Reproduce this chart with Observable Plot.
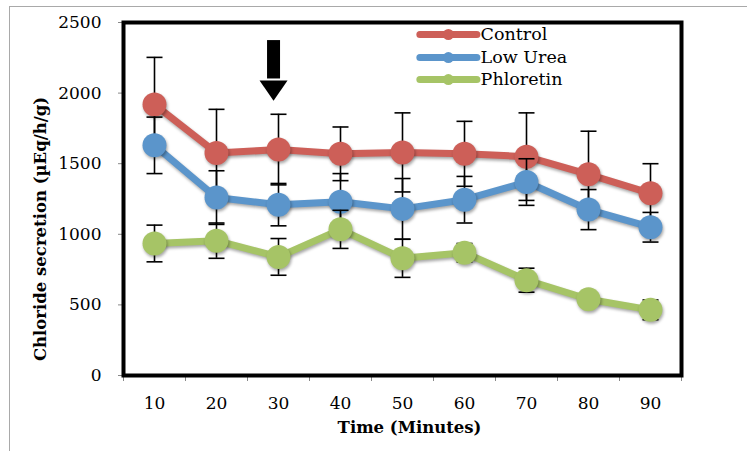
<!DOCTYPE html>
<html>
<head>
<meta charset="utf-8">
<script src="https://cdn.jsdelivr.net/npm/d3@7"></script>
<script src="https://cdn.jsdelivr.net/npm/@observablehq/plot@0.6"></script>
<style>
  html, body { margin: 0; padding: 0; background: #fff; overflow: hidden; }
  #wrap { position: relative; width: 747px; height: 451px; color: #000; }
  #border { position: absolute; left: 9px; top: 6px; right: -20px; bottom: -20px;
            border-left: 1px solid #a9a9a9; border-top: 1px solid #a9a9a9; pointer-events: none; }
  .shadow { filter: drop-shadow(1.5px 2px 1.5px rgba(0,0,0,0.35)); }
</style>
</head>
<body>
<div id="wrap"><div id="border"></div></div>
<script>
// ---- data ----
const minutes = [10, 20, 30, 40, 50, 60, 70, 80, 90];
const control      = [1920, 1575, 1600, 1570, 1580, 1570, 1550, 1425, 1290];
const controlErr   = [333, 310, 250, 190, 280, 230, 310, 305, 210];
const lowUrea      = [1630, 1260, 1210, 1230, 1180, 1245, 1370, 1175, 1050];
const lowUreaErr   = [200, 190, 150, 200, 215, 165, 165, 142, 105];
const phloretin    = [935, 955, 840, 1035, 830, 870, 675, 540, 465];
const phloretinErr = [130, 125, 130, 135, 135, 65, 85, 30, 70];
const seriesNames  = ["Control", "Low Urea", "Phloretin"];
const seriesColors = ["#CD5F58", "#5B95CB", "#A6C466"];
const yTicks = [0, 500, 1000, 1500, 2000, 2500];
const xTickMarks = [5, 15, 25, 35, 45, 55, 65, 75, 85, 95];
// legend placement (data units) and arrow annotation (at 30 min)
const legendX = {x1: 52.8, x2: 62.0, dot: 57.4, text: 62.6};
const legendY = [2415, 2252, 2096];
const arrow = [{x: 29.2, top: 2372, neck: 2100, head: 2018}];

const seriesValues = [control, lowUrea, phloretin];
const seriesErrs = [controlErr, lowUreaErr, phloretinErr];

const capSymbol = {draw(ctx, size) { const r = Math.sqrt(size / Math.PI); ctx.moveTo(-r, 0); ctx.lineTo(r, 0); }};
const downTriangle = {draw(ctx, size) { const r = Math.sqrt(size / Math.PI);
  ctx.moveTo(-r, -0.72 * r); ctx.lineTo(r, -0.72 * r); ctx.lineTo(0, 0.72 * r); ctx.closePath(); }};

const seriesMarks = seriesNames.flatMap((name, k) => {
  const rows = minutes.map((m, i) => ({minute: m, value: seriesValues[k][i], lo: seriesValues[k][i] - seriesErrs[k][i], hi: seriesValues[k][i] + seriesErrs[k][i]}));
  return [
    Plot.ruleX(rows, {x: "minute", y1: "lo", y2: "hi", stroke: "#000", strokeWidth: 1.6}),
    Plot.dot(rows, {x: "minute", y: "lo", r: 8, symbol: capSymbol, stroke: "#000", strokeWidth: 1.6, fill: "none"}),
    Plot.dot(rows, {x: "minute", y: "hi", r: 8, symbol: capSymbol, stroke: "#000", strokeWidth: 1.6, fill: "none"}),
    Plot.line(rows, {x: "minute", y: "value", stroke: seriesColors[k], strokeWidth: 7, strokeLinejoin: "round"}),
    Plot.dot(rows, {x: "minute", y: "value", r: 12, fill: seriesColors[k], stroke: "none"})
  ];
});

const legendRows = seriesNames.map((n, k) => ({name: n, color: seriesColors[k], y: legendY[k]}));

const chart = Plot.plot({
  width: 747,
  height: 451,
  marginLeft: 123,
  marginRight: 66,
  marginTop: 22,
  marginBottom: 76,
  style: {fontFamily: "'DejaVu Serif', serif", fontSize: "17px", color: "#000", background: "transparent"},
  x: {domain: [5, 95]},
  y: {domain: [0, 2500]},
  marks: [
    Plot.axisY({ticks: yTicks, tickSize: 5, tickPadding: 17, tickFormat: d => String(d), label: null, stroke: "#888", fill: "#000", fontSize: 17}),
    Plot.axisX({ticks: minutes, tickSize: 0, tickPadding: 21, label: null, fill: "#000", fontSize: 17}),
    Plot.axisX({ticks: xTickMarks, tickSize: 6, tickFormat: () => "", label: null, stroke: "#888"}),
    Plot.frame({stroke: "#000", strokeWidth: 4}),
    ...seriesMarks,
    Plot.ruleX(arrow, {x: "x", y1: "top", y2: "neck", stroke: "#000", strokeWidth: 13}),
    Plot.dot(arrow, {x: "x", y: "head", r: 14, symbol: downTriangle, fill: "#000", stroke: "none"}),
    Plot.link(legendRows, {x1: () => legendX.x1, x2: () => legendX.x2, y1: "y", y2: "y", stroke: "color", strokeWidth: 7, strokeLinecap: "round"}),
    Plot.dot(legendRows, {x: () => legendX.dot, y: "y", r: 5.5, fill: "color", stroke: "none"}),
    Plot.text(legendRows, {x: () => legendX.text, y: "y", text: "name", textAnchor: "start", fontSize: 17.5, fill: "#000"}),
    Plot.text(["Time (Minutes)"], {frameAnchor: "bottom", textAnchor: "middle", lineAnchor: "middle", dy: 52, dx: 7, fontWeight: "bold", fontSize: 16.5, fill: "#000"}),
    Plot.text(["Chloride secretion (µEq/h/g)"], {frameAnchor: "left", textAnchor: "middle", lineAnchor: "middle", rotate: -90, dx: -83, dy: 30, fontWeight: "bold", fontSize: 16.5, fill: "#000"})
  ]
});
// drop shadows on the series lines and markers
chart.querySelectorAll('g[aria-label="line"]').forEach(g => g.classList.add("shadow"));
chart.querySelectorAll('g[aria-label="dot"]').forEach(g => {
  const f = (g.getAttribute("fill") || "").toUpperCase();
  if (seriesColors.includes(f)) g.classList.add("shadow");
});
document.getElementById("wrap").appendChild(chart);
</script>
</body>
</html>
